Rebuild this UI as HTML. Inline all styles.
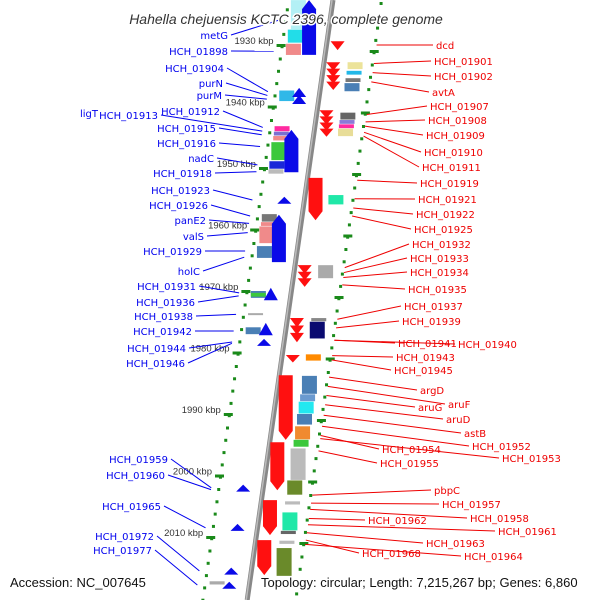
<!DOCTYPE html>
<html><head><meta charset="utf-8"><style>
html,body{margin:0;padding:0;background:#fff;}
svg{display:block;font-family:"Liberation Sans",sans-serif;}
</style></head><body>
<svg id="map" width="600" height="600" viewBox="0 0 600 600"></svg>
<script>
// ---- data (kbp positions) ----
const tickKbp = [1930,1940,1950,1960,1970,1980,1990,2000,2010];
const tickLabels = ["1930 kbp","1940 kbp","1950 kbp","1960 kbp","1970 kbp","1980 kbp","1990 kbp","2000 kbp","2010 kbp"];
// forward genes: [startKbp, endKbp]
const fwdGenes = [[1929.4,1930.5],[1932.8,1937.0],[1940.6,1944.6],[1951.6,1958.5],[1965.8,1969.0],[1974.4,1978.0],[1980.4,1981.3],[1983.7,1994.2],[1994.6,2002.4],[2004.0,2009.7],[2010.5,2016.2]];
// reverse genes
const revGenes = [[1922.7,1931.6],[1937.3,1939.6],[1943.8,1950.7],[1955.0,1955.6],[1957.6,1965.3],[1969.8,1971.5],[1975.5,1977.2],[1978.1,1978.6],[2001.8,2002.4],[2008.2,2008.8],[2015.3,2016.0],[2017.6,2018.2]];
// feature boxes: [startKbp, endKbp, strand(1/-1), color]
const boxes = [
 [1922.7,1927.5,-1,"#b3f0f5"],[1927.5,1929.7,-1,"#22dde8"],[1929.8,1931.7,-1,"#f08a8a"],
 [1932.8,1934.0,1,"#ece39a"],[1934.2,1934.9,1,"#22b8e8"],[1935.4,1936.1,1,"#777"],[1936.2,1937.6,1,"#4a7fb5"],
 [1937.4,1939.2,-1,"#30b8e8"],
 [1941.0,1942.2,1,"#666"],[1942.2,1942.9,1,"#8a7ad8"],[1942.9,1943.6,1,"#ff2aa0"],[1943.6,1944.9,1,"#e8dd98"],
 [1943.2,1944.1,-1,"#ff2aa0"],[1944.1,1944.8,-1,"#7a70d0"],[1944.8,1945.6,-1,"#f08a8a"],[1945.8,1948.8,-1,"#3cc83c"],[1948.9,1950.2,-1,"#1a28d8"],[1950.2,1951.0,-1,"#bbb"],
 [1954.4,1956.0,1,"#20e8a8"],
 [1957.5,1958.8,-1,"#777"],[1958.8,1959.5,-1,"#f08a8a"],[1959.5,1962.3,-1,"#f08a8a"],[1962.7,1964.7,-1,"#4a7fb5"],
 [1965.8,1968.0,1,"#aaa"],
 [1970.0,1971.2,-1,"#4a7fb5"],[1970.3,1971.0,-1,"#3cc83c"],[1973.6,1974.0,-1,"#aaa"],
 [1974.4,1975.0,1,"#888"],[1975.0,1977.8,1,"#0a0a70"],[1975.9,1977.1,-1,"#4a7fb5"],
 [1980.3,1981.4,1,"#ff8a00"],
 [1983.8,1986.8,1,"#4a7fb5"],[1986.8,1988.0,1,"#6a9ad0"],[1988.0,1990.0,1,"#22e8f0"],[1990.0,1991.8,1,"#4a7fb5"],[1992.0,1994.2,1,"#f08a30"],[1994.2,1995.4,1,"#3cc83c"],
 [1995.6,2000.8,1,"#bbb"],[2000.8,2003.2,1,"#6a8a2a"],[2004.2,2004.8,1,"#bbb"],
 [2006.0,2009.0,1,"#20e8a8"],[2009.0,2009.6,1,"#666"],[2010.6,2011.2,1,"#bbb"],[2011.8,2016.4,1,"#6a8a2a"],
 [2017.2,2017.8,-1,"#aaa"]
];
// labels: text, strand, label y (px), label x anchor (px), target kbp
const labelText = ["metG","HCH_01898","HCH_01904","purN","purM","HCH_01912","HCH_01913","HCH_01915","HCH_01916","nadC","HCH_01918","HCH_01923","HCH_01926","panE2","valS","HCH_01929","holC","HCH_01931","HCH_01936","HCH_01938","HCH_01942","HCH_01944","HCH_01946","HCH_01959","HCH_01960","HCH_01965","HCH_01972","HCH_01977","ligT",
 "dcd","HCH_01901","HCH_01902","avtA","HCH_01907","HCH_01908","HCH_01909","HCH_01910","HCH_01911","HCH_01919","HCH_01921","HCH_01922","HCH_01925","HCH_01932","HCH_01933","HCH_01934","HCH_01935","HCH_01937","HCH_01939","HCH_01941","HCH_01940","HCH_01943","HCH_01945","argD","aruF","aruG","aruD","astB","HCH_01952","HCH_01954","HCH_01953","HCH_01955","pbpC","HCH_01957","HCH_01958","HCH_01962","HCH_01961","HCH_01963","HCH_01968","HCH_01964"];
const labelStrand = [-1,-1,-1,-1,-1,-1,-1,-1,-1,-1,-1,-1,-1,-1,-1,-1,-1,-1,-1,-1,-1,-1,-1,-1,-1,-1,-1,-1,0,
 1,1,1,1,1,1,1,1,1,1,1,1,1,1,1,1,1,1,1,1,2,1,1,1,2,1,2,2,2,1,2,1,1,2,2,1,2,2,1,2];
const labelY = [39,55,72,87,99,115,119,132,147,162,177,194,209,224,240,255,275,290,306,320,335,352,367,463,479,510,540,554,117,
 49,65,80,96,110,124,139,156,171,187,203,218,233,248,262,276,293,310,325,347,348,361,374,394,408,411,423,437,450,453,462,467,494,508,522,524,535,547,557,560];
const labelX = [228,228,224,223,222,220,158,216,216,214,212,210,208,206,204,202,200,196,195,193,192,186,185,168,165,161,154,152,98,
 436,434,434,432,430,428,426,424,422,420,418,416,414,412,410,410,408,404,402,398,458,396,394,420,448,418,446,464,472,382,502,380,434,442,470,368,498,426,362,464];
const labelTarget = [1926,1931,1937.6,1938.2,1938.8,1943.4,1944.0,1944.6,1946.5,1949.5,1950.6,1955.2,1957.8,1959,1960.5,1963.5,1964.5,1970.3,1970.8,1973.8,1976.5,1978.3,1978.5,2002,2002.3,2008.5,2015.5,2017.8,1943.8,
 1930,1933,1934.5,1936,1941.3,1942.5,1943.2,1944.2,1944.8,1952,1955,1956.5,1957.8,1966.2,1967,1967.8,1969,1974.6,1976,1978,1978,1980.5,1981.2,1984,1985.5,1987,1988.5,1990.2,1992,1993.5,1994,1996,2003.2,2004.5,2005.5,2007,2008,2009.3,2010.5,2011.2];

// ---- axis functions ----
const Y0 = 45, PX_PER_KBP = 6.15;
function yOf(k){ return Y0 + (k-1930)*PX_PER_KBP; }
function bx(y){ return 333 - 0.143*y; } // backbone x at y

const NS="http://www.w3.org/2000/svg";
const svg=document.getElementById('map');
function el(t,a,p){const e=document.createElementNS(NS,t);for(const k in a)e.setAttribute(k,a[k]);(p||svg).appendChild(e);return e;}

// dotted rails
for(let y=-4;y<=600;y+=12.3){
  const l=el('rect',{x:bx(y)-46,y:y,width:3,height:3,fill:"#1a8a1a"});
  
  
  const r=el('rect',{x:bx(y)+46,y:y+6,width:3,height:3,fill:"#1a8a1a"});
  
  
}
// ticks
tickKbp.forEach((k,i)=>{
  const y=yOf(k);
  const t=el('rect',{x:bx(y)-50,y:y-1,width:9,height:3,fill:"#1a8a1a"});
  
  
  const r=el('rect',{x:bx(y+6)+44,y:y+5,width:9,height:3,fill:"#1a8a1a"});
  
  
  const tx=el('text',{x:bx(y)-53,y:y-1,'text-anchor':'end','font-size':9.5,fill:"#333"});
  tx.textContent=tickLabels[i];
  
  
});
// backbone
const bb=el('line',{x1:bx(0),y1:0,x2:bx(600),y2:600,stroke:"#888",'stroke-width':5});


el('line',{x1:bx(0)-1,y1:0,x2:bx(600)-1,y2:600,stroke:"#bbb",'stroke-width':1.5});

// label lines + labels
labelText.forEach((t,i)=>{
  const s=labelStrand[i];
  const left = s<=0;
  const col = left?"#0000ee":"#ee0000";
  const ty=yOf(labelTarget[i]);
  const tx = left? bx(ty)-52 : bx(ty)+50;
  const lx = left? labelX[i]+3 : labelX[i]-3;
  if(s!==0){
    const ln=el('line',{x1:lx,y1:labelY[i]-4,x2:tx,y2:ty,stroke:col,'stroke-width':1});
    
    
  }
  const tt=el('text',{x:labelX[i],y:labelY[i],'text-anchor':left?'end':'start','font-size':10,'font-family':'DejaVu Sans, sans-serif',fill:col});
  tt.textContent=t;
  
  
});

// boxes
boxes.forEach(b=>{
  const y1=yOf(b[0]),y2=yOf(b[1]),ym=(y1+y2)/2;
  const x = b[2]>0 ? bx(ym)+24 : bx(ym)-40;
  const r=el('rect',{x:x,y:y1,width:15,height:Math.max(2,y2-y1-0.5),fill:b[3]});
  
  
});
// arrows
function arrow(g,dir){
  const y1=yOf(g[0]),y2=yOf(g[1]),ym=(y1+y2)/2;
  const cx = dir>0 ? bx(ym)+11 : bx(ym)-20;
  const w=7,h=Math.max(5,y2-y1);
  const col=dir>0?"#ff1010":"#0a0ae8";
  const shapes=[];
  if(h>28){
    const head=9;
    if(dir>0) shapes.push([[cx-w,y1],[cx+w,y1],[cx+w,y1+h-head],[cx,y1+h],[cx-w,y1+h-head]]);
    else shapes.push([[cx,y1],[cx+w,y1+head],[cx+w,y1+h],[cx-w,y1+h],[cx-w,y1+head]]);
  } else {
    const n=Math.max(1,Math.round(h/7)), step=h/n;
    for(let j=0;j<n;j++){
      const a=y1+j*step, b=a+step+2;
      if(dir>0) shapes.push([[cx-w,a],[cx+w,a],[cx,b]]);
      else shapes.push([[cx,a-2],[cx+w,b-2],[cx-w,b-2]]);
    }
  }
  shapes.forEach(pts=>{
    const p=el('polygon',{points:pts.map(q=>q.join(',')).join(' '),fill:col});
    
    
  });
}
fwdGenes.forEach(g=>arrow(g,1));
revGenes.forEach(g=>arrow(g,-1));

// title & footer
const ti=el('text',{x:286,y:24,'text-anchor':'middle','font-size':14,'font-style':'italic',fill:"#333",stroke:"#fff",'stroke-width':3,'paint-order':'stroke'});
ti.textContent="Hahella chejuensis KCTC 2396, complete genome";


const a=el('text',{x:10,y:587,'font-size':13,fill:"#111",stroke:"#fff",'stroke-width':3,'paint-order':'stroke'});
a.textContent="Accession: NC_007645";


const tp=el('text',{x:261,y:587,'font-size':13,fill:"#111",stroke:"#fff",'stroke-width':3,'paint-order':'stroke'});
tp.textContent="Topology: circular; Length: 7,215,267 bp; Genes: 6,860";


</script>
</body></html>
